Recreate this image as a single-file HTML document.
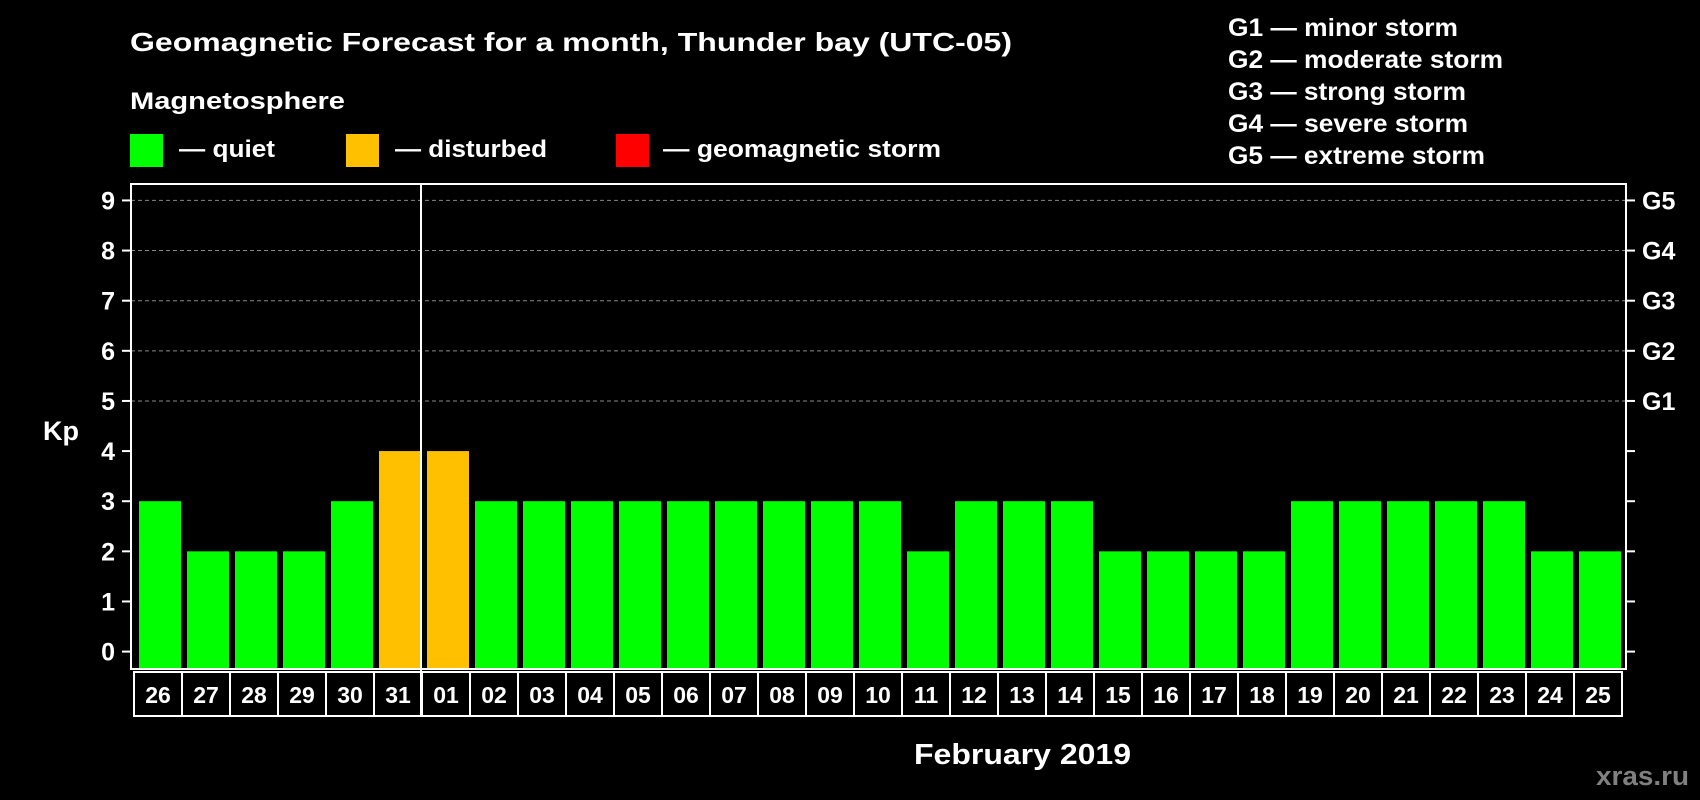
<!DOCTYPE html>
<html><head><meta charset="utf-8"><style>
html,body{margin:0;padding:0;background:#000;}
svg{display:block;font-family:"Liberation Sans",sans-serif;font-weight:bold;}
</style></head><body>
<svg id="chart" width="1700" height="800" viewBox="0 0 1700 800">
<rect width="1700" height="800" fill="#000"/>
<text x="130" y="51" font-size="26" fill="#fff" textLength="882" lengthAdjust="spacingAndGlyphs">Geomagnetic Forecast for a month, Thunder bay (UTC-05)</text>
<text x="130" y="109" font-size="24" fill="#fff" textLength="215" lengthAdjust="spacingAndGlyphs">Magnetosphere</text>
<g>
<rect x="130" y="134" width="33" height="33" fill="#00ff00"/>
<text x="179" y="157" font-size="24" fill="#fff" textLength="96" lengthAdjust="spacingAndGlyphs">— quiet</text></g>
<g>
<rect x="346" y="134" width="33" height="33" fill="#ffc000"/>
<text x="395" y="157" font-size="24" fill="#fff" textLength="152" lengthAdjust="spacingAndGlyphs">— disturbed</text></g>
<g>
<rect x="616" y="134" width="33" height="33" fill="#ff0000"/>
<text x="663" y="157" font-size="24" fill="#fff" textLength="278" lengthAdjust="spacingAndGlyphs">— geomagnetic storm</text></g>
<g font-size="25" fill="#fff" lengthAdjust="spacingAndGlyphs">
<text x="1228" y="36" textLength="230" lengthAdjust="spacingAndGlyphs">G1 — minor storm</text>
<text x="1228" y="68" textLength="275" lengthAdjust="spacingAndGlyphs">G2 — moderate storm</text>
<text x="1228" y="100" textLength="238" lengthAdjust="spacingAndGlyphs">G3 — strong storm</text>
<text x="1228" y="132" textLength="240" lengthAdjust="spacingAndGlyphs">G4 — severe storm</text>
<text x="1228" y="164" textLength="257" lengthAdjust="spacingAndGlyphs">G5 — extreme storm</text>
</g>
<g id="grid"></g>
<g id="bars"></g>
<g id="axes"></g>
<text x="43" y="440" font-size="27" fill="#fff">Kp</text>
<text x="914" y="764" font-size="29" fill="#fff" textLength="217" lengthAdjust="spacingAndGlyphs">February 2019</text>
<text x="1596" y="785" font-size="27" fill="#808080" textLength="93" lengthAdjust="spacingAndGlyphs">xras.ru</text>
</svg>
<script>
const days = ["26","27","28","29","30","31","01","02","03","04","05","06","07","08","09","10","11","12","13","14","15","16","17","18","19","20","21","22","23","24","25"];
const kpValues = [3,2,2,2,3,4,4,3,3,3,3,3,3,3,3,3,2,3,3,3,2,2,2,2,3,3,3,3,3,2,2];
const yTicks = [0,1,2,3,4,5,6,7,8,9];
const gLabels = ["","","","","","G1","G2","G3","G4","G5"];
const NS="http://www.w3.org/2000/svg";
const plotLeft=131,plotRight=1626,plotTop=184,plotBottom=669;
const y0=651.6,unit=50.13;
const x0=134,pitch=48;
function yPos(v){return y0-v*unit;}
function xPos(i){return x0+i*pitch;}
function mk(tag,attrs,parent){const e=document.createElementNS(NS,tag);for(const k in attrs)e.setAttribute(k,attrs[k]);parent.appendChild(e);return e;}
const grid=document.getElementById('grid'),bars=document.getElementById('bars'),axes=document.getElementById('axes');
yTicks.forEach(function(t){
  const y=yPos(t);
  if(t>=5){const g=mk('line',{x1:plotLeft,x2:plotRight,y1:y,y2:y,stroke:'#888','stroke-width':1,'stroke-dasharray':'4,3'},grid);
  
  }
  mk('line',{x1:plotLeft-9,x2:plotLeft,y1:y,y2:y,stroke:'#fff','stroke-width':2},axes);
  mk('line',{x1:plotRight,x2:plotRight+9,y1:y,y2:y,stroke:'#fff','stroke-width':2},axes);
  const tl=mk('text',{x:115,y:y+9,'font-size':25,fill:'#fff','text-anchor':'end'},axes);
  tl.textContent=t;
  
  
  if(gLabels[t]){const gl=mk('text',{x:1642,y:y+9,'font-size':25,fill:'#fff'},axes);gl.textContent=gLabels[t];
  
  }
});
kpValues.forEach(function(v,i){
  const col=v>=5?'#ff0000':(v>=4?'#ffc000':'#00ff00');
  const b=mk('rect',{x:xPos(i)+5,y:yPos(v),width:42,height:plotBottom-yPos(v),fill:col},bars);
  
  
  const c=mk('rect',{x:xPos(i),y:672,width:pitch,height:44,fill:'none',stroke:'#fff','stroke-width':2},axes);
  
  
  const t=mk('text',{x:xPos(i)+pitch/2,y:703,'font-size':23,fill:'#fff','text-anchor':'middle'},axes);
  t.textContent=days[i];
  
  
});
const fr=mk('rect',{x:plotLeft,y:plotTop,width:plotRight-plotLeft,height:plotBottom-plotTop,fill:'none',stroke:'#fff','stroke-width':2},axes);


const mi=days.indexOf("01");
const dv=mk('line',{x1:xPos(mi)-1,x2:xPos(mi)-1,y1:plotTop,y2:716,stroke:'#fff','stroke-width':2},axes);


</script>
</body></html>
